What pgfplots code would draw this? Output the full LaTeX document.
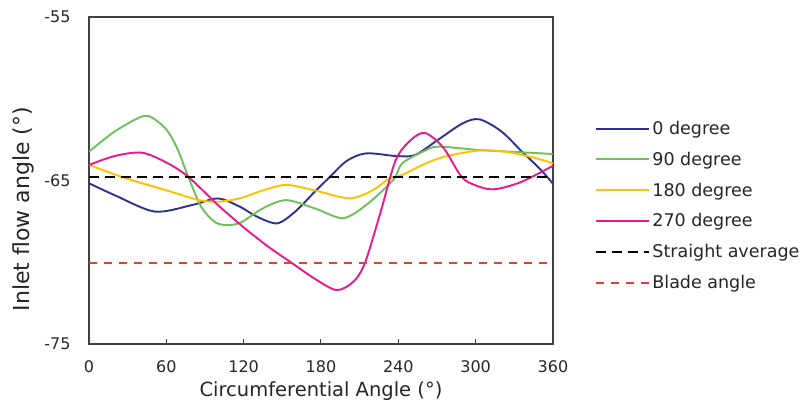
\documentclass[border=0pt]{standalone}
\usepackage{fontspec}
\setmainfont{DejaVu Sans}
\usepackage{pgfplots}
\pgfplotsset{compat=1.18}
\definecolor{c0}{RGB}{46,49,146}
\definecolor{c90}{RGB}{112,191,90}
\definecolor{c180}{RGB}{255,192,0}
\definecolor{c270}{RGB}{232,25,139}
\definecolor{cblade}{RGB}{232,60,50}
\definecolor{axgray}{RGB}{64,64,64}
\begin{document}
\begin{tikzpicture}
\useasboundingbox (-89pt,-63pt) rectangle (712pt,344pt);
\begin{axis}[
 at={(0,0)}, anchor=south west,
 scale only axis, width=464pt, height=327pt,
 xmin=0,xmax=360,ymin=-75,ymax=-55,
 xtick={0,60,...,360}, ytick={-75,-65,-55},
 axis line style={axgray, line width=1.2pt},
 xtick pos=bottom, tick align=inside, major tick length=5pt,
 ytick style={draw=none},
 xtick style={axgray, line width=1pt},
 tick label style={font=\fontsize{16}{18}\selectfont, text=black!85},
 xticklabel style={yshift=-13pt},
 yticklabel style={xshift=-15pt},
 /pgf/number format/assume math mode=true,
 xlabel={Circumferential Angle (°)}, ylabel={Inlet flow angle (°)},
 xlabel style={at={(rel axis cs:0.5,-0.1612)}, anchor=base, font=\fontsize{19.5}{22}\selectfont, text=black!85},
 ylabel style={at={(rel axis cs:-0.1293,0.4128)}, anchor=base, font=\fontsize{22}{24}\selectfont, text=black!85},
 legend style={at={(1.0905,0.688)}, anchor=north west, draw=none, fill=none, font=\fontsize{17.5}{20}\selectfont, text=black!85, row sep=12pt, inner sep=0pt},
 legend cell align=left,
 legend image code/.code={\draw[#1] (0pt,0pt) -- (53pt,0pt);},
]
\addplot[c0, line width=1.9pt, smooth] coordinates {
(0,-65.17)(20,-65.9)(51,-66.9)(80,-66.5)(100,-66.1)(117,-66.6)(130,-67.2)(146,-67.62)(160,-66.9)(175,-65.7)(187,-64.77)(200,-63.8)(215,-63.34)(238,-63.5)(253,-63.44)(271,-62.5)(290,-61.5)(303,-61.26)(320,-62.0)(336,-63.24)(350,-64.3)(360,-65.2)};
\addlegendentry{0 degree}
\addplot[c90, line width=1.9pt, smooth] coordinates {
(0,-63.24)(20,-62.0)(43,-61.04)(55,-61.5)(62,-62.1)(69,-63.13)(77,-64.77)(87,-66.6)(97,-67.5)(105,-67.72)(117,-67.6)(135,-66.7)(153,-66.2)(175,-66.7)(197,-67.3)(215,-66.5)(236,-64.97)(243,-63.95)(260,-63.2)(271,-62.93)(302,-63.13)(330,-63.25)(360,-63.38)};
\addlegendentry{90 degree}
\addplot[c180, line width=1.9pt, smooth] coordinates {
(0,-64.05)(30,-64.9)(60,-65.6)(85,-66.19)(100,-66.3)(117,-66.09)(135,-65.6)(153,-65.27)(175,-65.6)(202,-66.09)(220,-65.6)(233,-64.87)(243,-64.66)(260,-64.0)(276,-63.54)(302,-63.17)(323,-63.24)(345,-63.6)(360,-63.95)};
\addlegendentry{180 degree}
\addplot[c270, line width=1.9pt, smooth] coordinates {
(0,-64.05)(20,-63.5)(41,-63.3)(60,-63.9)(77,-64.77)(100,-66.5)(121,-67.93)(140,-69.1)(156,-69.97)(175,-71.0)(192,-71.7)(205,-71.2)(214,-70.06)(226,-67.0)(238,-63.75)(250,-62.5)(261,-62.1)(275,-63.0)(289,-64.77)(300,-65.3)(314,-65.54)(335,-65.1)(360,-64.1)};
\addlegendentry{270 degree}
\addplot[black, line width=2.2pt, dash pattern=on 10pt off 6pt] coordinates {(0,-64.79)(360,-64.79)};
\addlegendentry{Straight average}
\addplot[cblade, line width=1.8pt, dash pattern=on 8pt off 7pt] coordinates {(0,-70.05)(360,-70.05)};
\addlegendentry{Blade angle}
\end{axis}
\end{tikzpicture}
\end{document}
